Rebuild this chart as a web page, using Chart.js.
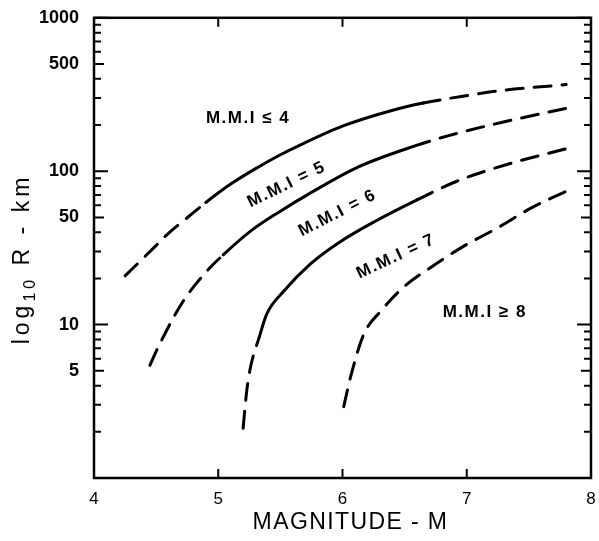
<!DOCTYPE html>
<html>
<head>
<meta charset="utf-8">
<script src="https://cdn.jsdelivr.net/npm/chart.js@4/dist/chart.umd.min.js"></script>
<style>
  html, body { margin: 0; padding: 0; background: #fff; }
  canvas { display: block; }
</style>
</head>
<body>
<canvas id="chart" width="599" height="541"></canvas>
<script>
// Isoseismal boundaries: distance R (km) reached by each Modified Mercalli
// intensity for an earthquake of magnitude M.

// Boundary between M.M.I <= 4 and M.M.I = 5
const edge45M = [4.25, 4.40, 4.51, 4.59, 4.75, 4.90, 5.10, 5.31, 5.50, 5.65, 6.01, 6.39, 6.65, 7.01, 7.27, 7.80];
const edge45R = [20.8, 27.3, 33.4, 38.8, 49.7, 62.5, 82.4, 105, 128, 147, 198, 248, 278, 312, 335, 367];

// Boundary between M.M.I = 5 and M.M.I = 6
const edge56M = [4.45, 4.53, 4.72, 4.91, 5.04, 5.26, 5.50, 5.72, 6.12, 6.57, 6.87, 7.27, 7.80];
const edge56R = [5.43, 7.51, 14.3, 22.4, 28.5, 40.7, 54.9, 70.4, 106, 145, 172, 207, 257];

// Boundary between M.M.I = 6 and M.M.I = 7
const edge67M = [5.20, 5.23, 5.26, 5.33, 5.39, 5.53, 5.74, 5.97, 6.26, 6.60, 6.92, 7.33, 7.80];
const edge67R = [2.11, 3.74, 5.29, 8.28, 11.7, 16.6, 24.8, 34.2, 47, 65, 86, 111, 140];

// Boundary between M.M.I = 7 and M.M.I >= 8
const edge78M = [6.01, 6.065, 6.17, 6.31, 6.49, 6.71, 6.98, 7.25, 7.52, 7.80];
const edge78R = [2.92, 4.56, 8.6, 12.3, 17.5, 23.6, 32.6, 42.8, 57.7, 74];

// Stretch of each boundary drawn as a solid line (the rest is dashed)
const solidFrom = [4.90, 5.04, 5.33, null];
const solidTo   = [6.65, 6.57, 6.60, null];

// Axes
const xTickValues = [4, 5, 6, 7, 8];
const yTickValues = [1, 2, 3, 4, 5, 6, 7, 8, 9,
                     10, 20, 30, 40, 50, 60, 70, 80, 90,
                     100, 200, 300, 400, 500, 600, 700, 800, 900, 1000];
const yTickLabels = [5, 10, 50, 100, 500, 1000];
const xTitle = 'MAGNITUDE - M';
const yTitleParts = ['log', '10', ' R - km'];

// Region names and where they sit (magnitude, km, rotation in degrees)
const regionNames = ['M.M.I ≤ 4', 'M.M.I = 5', 'M.M.I = 6', 'M.M.I = 7', 'M.M.I ≥ 8'];
const regionAt = [[5.24, 221], [5.55, 81.7], [5.96, 53.3], [6.43, 27.8], [7.145, 12.0]];
const regionTilt = [0, -26, -27, -25, 0];

const INK = '#000';
const FAMILY = "'Liberation Sans', Arial, sans-serif";
const DASH = [17, 11];

function toPoints(ms, rs) {
  return ms.map((m, i) => ({ x: m, y: rs[i] }));
}

function boundary(ms, rs, k) {
  const from = solidFrom[k], to = solidTo[k];
  return {
    data: toPoints(ms, rs),
    borderColor: INK,
    borderWidth: 3,
    borderCapStyle: 'round',
    borderJoinStyle: 'round',
    pointRadius: 0,
    fill: false,
    cubicInterpolationMode: 'monotone',
    segment: {
      borderDash: ctx => {
        const a = ctx.p0.parsed.x, b = ctx.p1.parsed.x;
        const solid = from !== null && a >= from - 1e-9 && b <= to + 1e-9;
        return solid ? [] : DASH;
      }
    }
  };
}

const decorations = {
  id: 'decorations',
  afterDatasetsDraw(chart) {
    const { ctx, chartArea: a, scales: { x, y } } = chart;
    ctx.save();
    ctx.strokeStyle = INK;
    ctx.fillStyle = INK;

    // frame
    ctx.lineWidth = 2.5;
    ctx.strokeRect(a.left, a.top, a.right - a.left, a.bottom - a.top);

    // inward tick marks on the left and right edges
    ctx.lineWidth = 2;
    y.ticks.forEach(t => {
      const v = t.value;
      const py = y.getPixelForValue(v);
      const lg = Math.log10(v);
      let len = 7;
      if (Math.abs(lg - Math.round(lg)) < 1e-9) len = 14;
      else if (yTickLabels.includes(v)) len = 10;
      ctx.beginPath();
      ctx.moveTo(a.left, py); ctx.lineTo(a.left + len, py);
      ctx.moveTo(a.right, py); ctx.lineTo(a.right - len, py);
      ctx.stroke();
    });

    // inward tick marks on the bottom and top edges
    x.ticks.forEach(t => {
      if (t.value <= x.min || t.value >= x.max) return;
      const px = x.getPixelForValue(t.value);
      ctx.beginPath();
      ctx.moveTo(px, a.bottom); ctx.lineTo(px, a.bottom - 9);
      ctx.moveTo(px, a.top); ctx.lineTo(px, a.top + 9);
      ctx.stroke();
    });

    // region names
    ctx.font = 'bold 17px ' + FAMILY;
    ctx.letterSpacing = '1.5px';
    ctx.textAlign = 'center';
    ctx.textBaseline = 'middle';
    regionNames.forEach((name, i) => {
      const px = x.getPixelForValue(regionAt[i][0]);
      const py = y.getPixelForValue(regionAt[i][1]);
      ctx.save();
      ctx.translate(px, py);
      ctx.rotate(regionTilt[i] * Math.PI / 180);
      ctx.fillText(name, 0, 0);
      ctx.restore();
    });

    // x axis title
    ctx.font = '23px ' + FAMILY;
    ctx.letterSpacing = '1.4px';
    ctx.textAlign = 'center';
    ctx.textBaseline = 'middle';
    ctx.fillText(xTitle, (a.left + a.right) / 2 + 8, 523);

    // y axis title with subscript
    const big = '23px ' + FAMILY, small = '16px ' + FAMILY;
    ctx.letterSpacing = '4px';
    ctx.textAlign = 'left';
    ctx.textBaseline = 'alphabetic';
    ctx.font = big;   const w0 = ctx.measureText(yTitleParts[0]).width;
    ctx.font = small; const w1 = ctx.measureText(yTitleParts[1]).width;
    ctx.font = big;   const w2 = ctx.measureText(yTitleParts[2]).width;
    const total = w0 + w1 + w2;
    ctx.save();
    ctx.translate(29, 259);
    ctx.rotate(-Math.PI / 2);
    let cx = -total / 2;
    ctx.font = big;   ctx.fillText(yTitleParts[0], cx, 0); cx += w0;
    ctx.font = small; ctx.fillText(yTitleParts[1], cx, 6); cx += w1;
    ctx.font = big;   ctx.fillText(yTitleParts[2], cx, 0);
    ctx.restore();

    ctx.restore();
  }
};

new Chart(document.getElementById('chart'), {
  type: 'line',
  data: {
    datasets: [
      boundary(edge45M, edge45R, 0),
      boundary(edge56M, edge56R, 1),
      boundary(edge67M, edge67R, 2),
      boundary(edge78M, edge78R, 3)
    ]
  },
  options: {
    responsive: false,
    animation: false,
    devicePixelRatio: 1,
    layout: { padding: { top: 15, right: 8, left: 0, bottom: 0 } },
    plugins: { legend: { display: false }, tooltip: { enabled: false } },
    scales: {
      x: {
        type: 'linear',
        min: 4, max: 8,
        afterBuildTicks: s => { s.ticks = xTickValues.map(v => ({ value: v })); },
        afterFit: s => { s.height = 63; },
        grid: { display: false },
        border: { display: false },
        ticks: {
          color: INK,
          padding: 3,
          maxRotation: 0,
          autoSkip: false,
          font: { family: FAMILY, size: 17 }
        }
      },
      y: {
        type: 'logarithmic',
        min: 1, max: 1000,
        afterBuildTicks: s => { s.ticks = yTickValues.map(v => ({ value: v })); },
        afterFit: s => { s.width = 94; },
        grid: { display: false },
        border: { display: false },
        ticks: {
          color: INK,
          padding: 7,
          autoSkip: false,
          font: { family: FAMILY, size: 18, weight: 'bold' },
          callback: v => (yTickLabels.includes(v) ? String(v) : '')
        }
      }
    }
  },
  plugins: [decorations]
});
</script>
</body>
</html>
